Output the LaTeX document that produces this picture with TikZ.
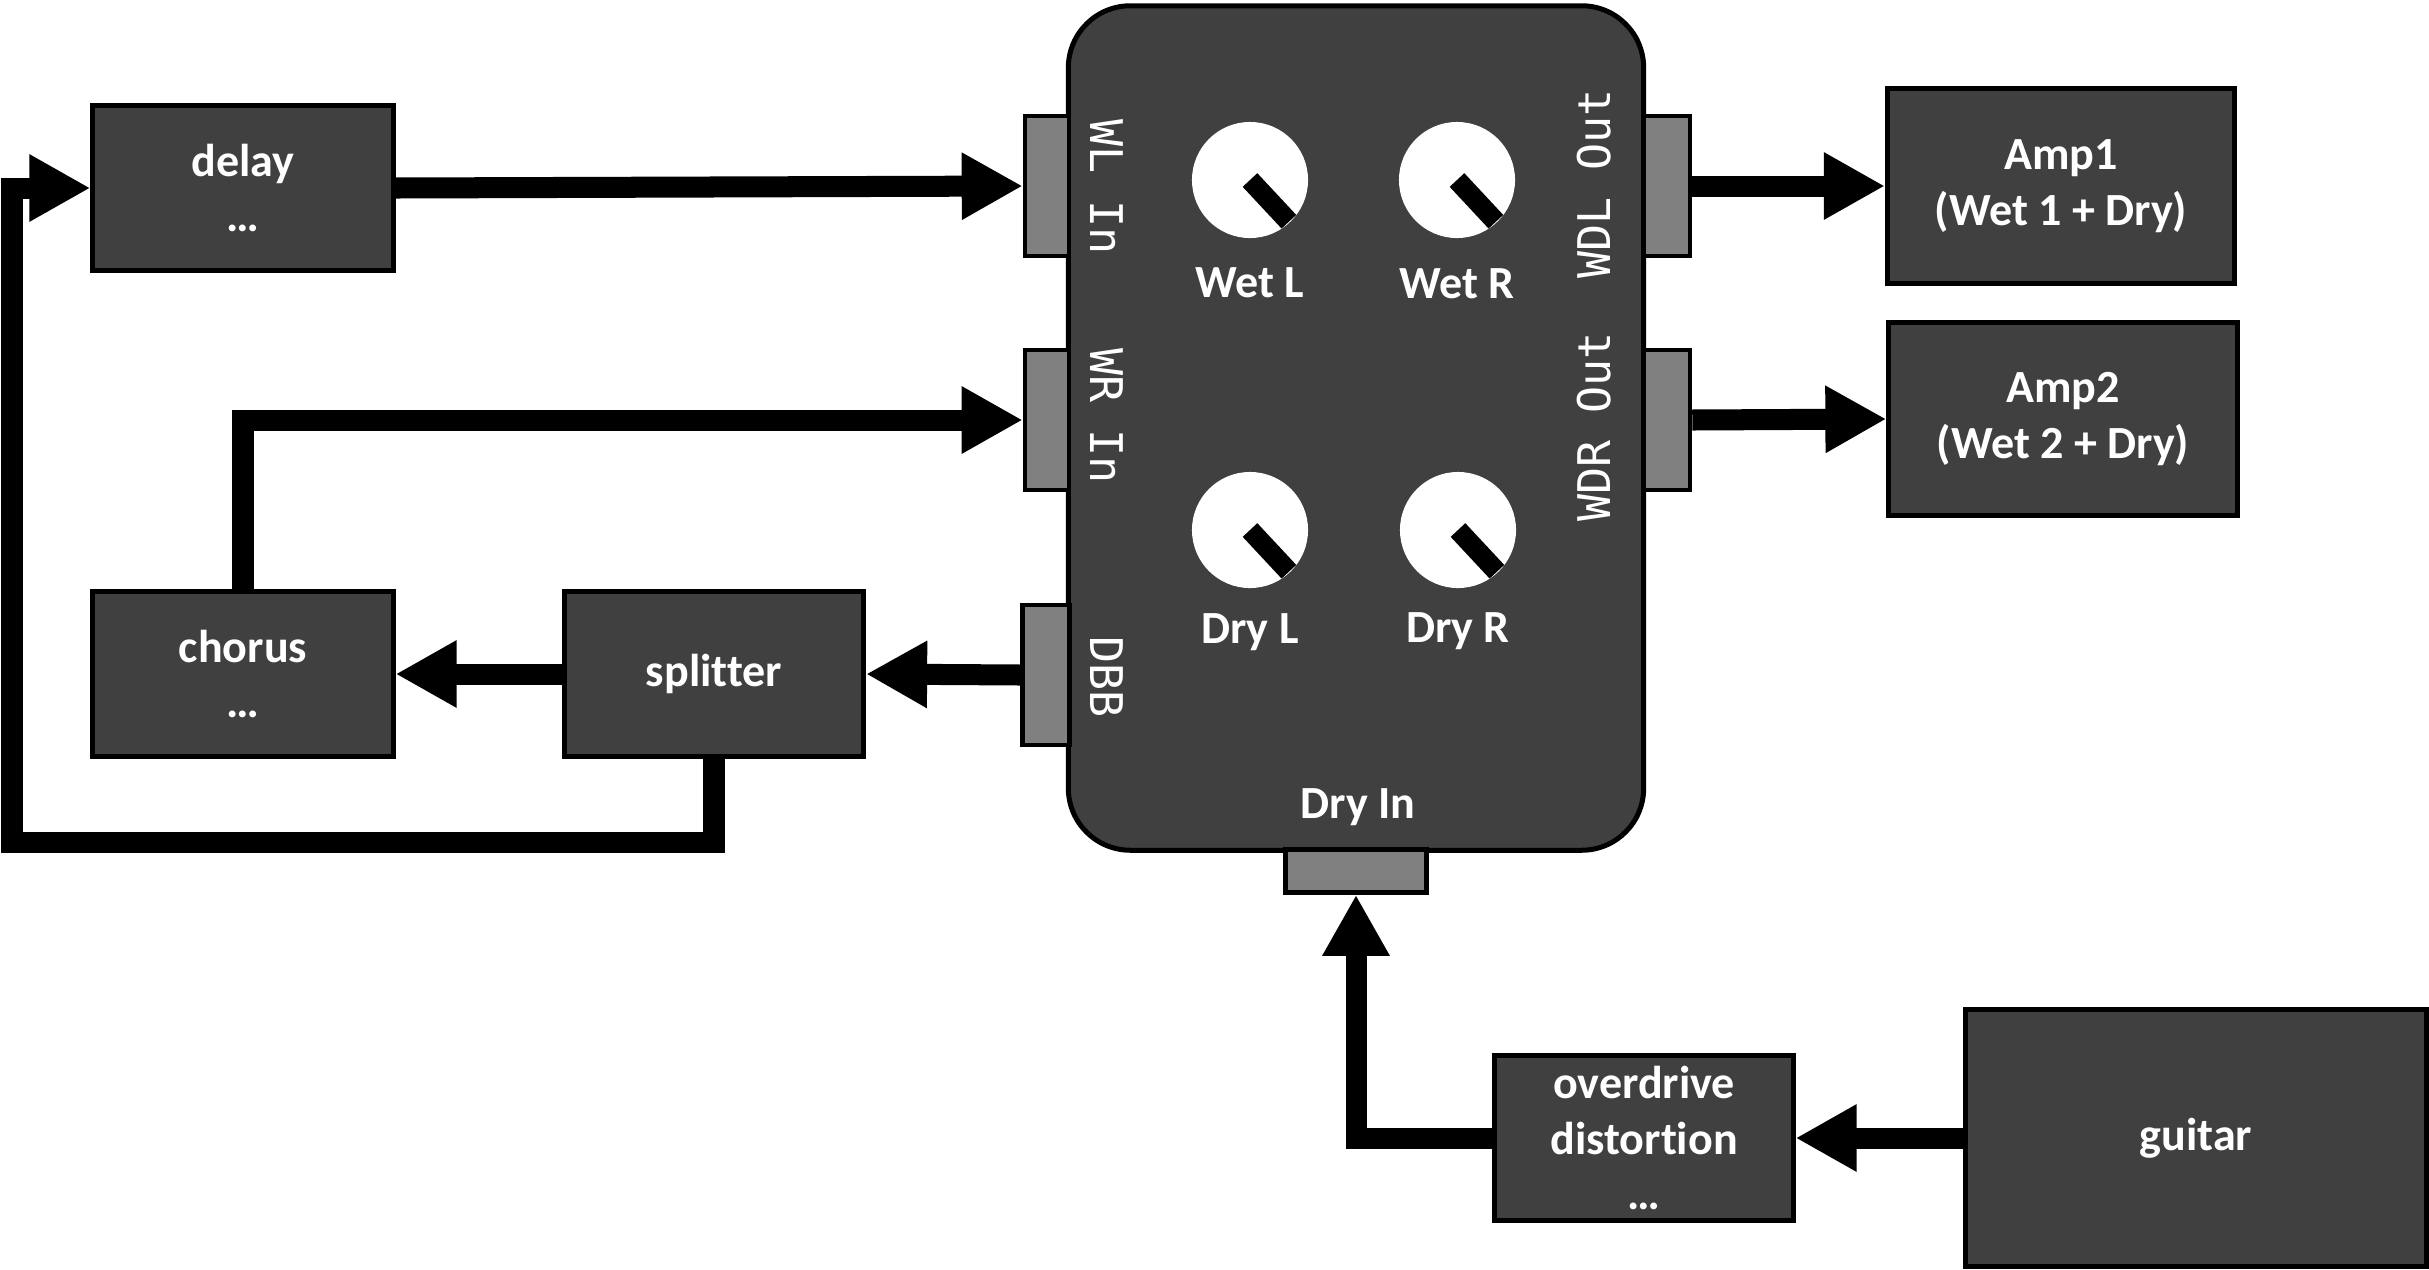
\documentclass[tikz,border=0pt]{standalone}
\usepackage{fontspec}
\setmainfont{Carlito}[Ligatures=NoCommon]
\newfontfamily\jackfont{DejaVu Sans Mono}
\usepackage{tikz}
\usetikzlibrary{arrows.meta}
\definecolor{pedalgrey}{HTML}{404040}
\colorlet{jackfill}{gray}
\tikzset{
  every unit/.style={draw,fill=pedalgrey,line width=0.05cm,text=white,align=center,inner sep=0pt,
    font=\fontsize{13.1}{15.9}\selectfont\bfseries},
  every jack/.style={draw,fill=jackfill,line width=0.045cm,inner sep=0pt},
  jack label/.style={text=white,inner sep=0pt,font=\fontsize{12.8}{15}\selectfont\jackfont},
  knob/.style={circle,fill=white,minimum size=1.16cm,inner sep=0pt},
  knob label/.style={text=white,inner sep=0pt,anchor=base,font=\fontsize{13.1}{15}\selectfont\bfseries},
  pointer/.style={draw,line width=0.2cm},
  cable/.style={draw,line width=0.21cm,-{Triangle[length=0.61cm,width=0.63cm]}},
}

\begin{document}
\begin{tikzpicture}[x=0.01cm,y=-0.01cm]
\useasboundingbox (0,0) rectangle (2429,1269);
\node[every unit,minimum width=5.75cm,minimum height=8.44cm,rounded corners=0.62cm] (pedal) at (1356,428) {};
\foreach \jk/\x/\y/\w/\h in {wlin/1047/186/0.44/1.40, wrin/1047/420/0.44/1.40, dbb/1046/675/0.47/1.40,
  wdlout/1667/186/0.46/1.40, wdrout/1667/420/0.46/1.40, dryin/1356/871/1.41/0.43}
{
  \node[every jack,minimum width=\w cm,minimum height=\h cm] (\jk) at (\x,\y) {};
}
\foreach \jk/\x/\y/\rot/\txt in {wlin/1107/187/-90/WL In, wrin/1107/416/-90/WR In, dbb/1107/677/-90/DBB,
  wdlout/1594/184/90/WDL Out, wdrout/1594/427/90/WDR Out}
{
  \node[jack label,rotate=\rot] (\jk-label) at (\x,\y) {\txt};
}
\foreach \kb/\x/\y/\ly/\txt in {wetL/1250/180/297/Wet L, wetR/1457/180/298/Wet R,
  dryL/1250/530/643/Dry L, dryR/1458/530/642/Dry R}
{
  \node[knob] (\kb) at (\x,\y) {};
  \draw[pointer] (\kb.center) -- ++(-47:0.57cm);
  \node[knob label] (\kb-label) at (\x,\ly) {\txt};
}
\node[knob label] (dryin-label) at (1358,818) {Dry In};

\node[every unit,minimum width=3.00cm,minimum height=1.65cm] (delay) at (243,188) {delay\\…};
\node[every unit,minimum width=3.00cm,minimum height=1.64cm] (chorus) at (243,674) {chorus\\…};
\node[every unit,minimum width=2.99cm,minimum height=1.64cm] (splitter) at (714,674) {splitter};
\node[every unit,minimum width=3.47cm,minimum height=1.94cm] (amp1) at (2061,186) {Amp1\\(Wet 1 + Dry)};
\node[every unit,minimum width=3.48cm,minimum height=1.92cm] (amp2) at (2063,419) {Amp2\\(Wet 2 + Dry)};
\node[every unit,minimum width=2.98cm,minimum height=1.65cm] (overdrive) at (1644,1138) {overdrive\\distortion\\…};
\node[every unit,minimum width=4.61cm,minimum height=2.57cm] (guitar) at (2196,1138) {guitar};
\coordinate (loop) at (12,842);

\draw[cable] (delay.east) -- (wlin.west);
\draw[cable] (chorus.north) |- (wrin.west);
\draw[cable] (dbb.west) -- (splitter.east);
\draw[cable] (splitter.west) -- (chorus.east);
\draw[cable] (splitter.south) |- (loop) |- (delay.west);
\draw[cable] (wdlout.east) -- (amp1.west);
\draw[cable] (wdrout.east) -- (amp2.west);
\draw[cable] (guitar.west) -- (overdrive.east);
\draw[cable] (overdrive.west) -| (dryin.south);
\end{tikzpicture}
\end{document}
